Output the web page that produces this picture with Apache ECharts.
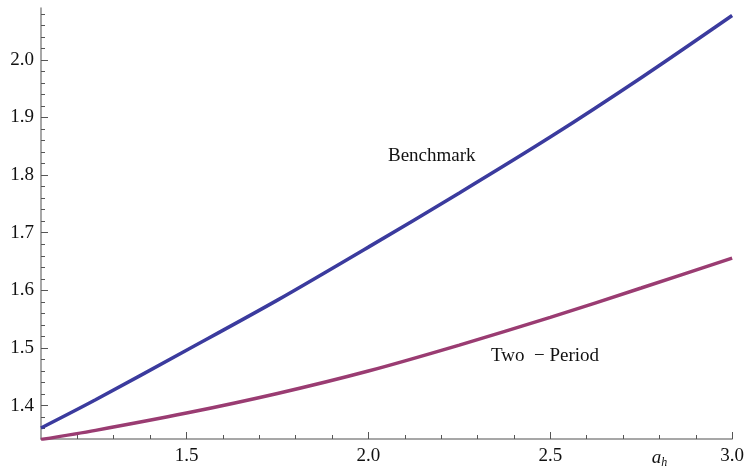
<!DOCTYPE html>
<html>
<head>
<meta charset="utf-8">
<script src="https://cdn.jsdelivr.net/npm/echarts@6/dist/echarts.min.js"></script>
<style>
    html, body { margin: 0; padding: 0; background: #fff; }
    #chart { width: 747px; height: 469px; }
</style>
</head>
<body>
<div id="chart"></div>
<script>
// data
var xs = [1.1, 1.25, 1.5, 1.75, 2.0, 2.25, 2.5, 2.75, 3.0];
var benchmark = [1.361, 1.410, 1.496, 1.583, 1.675, 1.769, 1.866, 1.969, 2.077];
var twoPeriod = [1.341, 1.357, 1.387, 1.421, 1.460, 1.505, 1.553, 1.604, 1.656];
var xMajor = [1.5, 2.0, 2.5, 3.0];
var xMinor = [1.2, 1.3, 1.4, 1.6, 1.7, 1.8, 1.9, 2.1, 2.2, 2.3, 2.4, 2.6, 2.7, 2.8, 2.9];
var yMajor = [1.4, 1.5, 1.6, 1.7, 1.8, 1.9, 2.0];
var yMinor = [1.36, 1.38, 1.42, 1.44, 1.46, 1.48, 1.52, 1.54, 1.56, 1.58, 1.62, 1.64, 1.66, 1.68,
              1.72, 1.74, 1.76, 1.78, 1.82, 1.84, 1.86, 1.88, 1.92, 1.94, 1.96, 1.98, 2.02, 2.04, 2.06, 2.08];

var FONT = '"Liberation Serif", "DejaVu Serif", serif';
var AXIS_COLOR = '#8a8a8a';
var TEXT_COLOR = '#111';

function pairs(ys) {
    var out = [];
    for (var i = 0; i < xs.length; i++) out.push([xs[i], ys[i]]);
    return out;
}

var chart = echarts.init(document.getElementById('chart'));

var xBase = { type: 'value', min: 1.1, max: 3.0, gridIndex: 0, splitLine: { show: false } };
var yBase = { type: 'value', min: 1.342, max: 2.09, gridIndex: 0, splitLine: { show: false } };

var option = {
    animation: false,
    backgroundColor: '#fff',
    grid: { left: 41, right: 14, top: 8, bottom: 26, containLabel: false },
    xAxis: [
        Object.assign({}, xBase, {
            axisLine: { onZero: false, lineStyle: { color: AXIS_COLOR, width: 1.5 } },
            axisTick: { inside: true, length: 7, customValues: xMajor, lineStyle: { color: '#555' } },
            axisLabel: {
                customValues: xMajor.concat([2.8]),
                margin: 8,
                color: TEXT_COLOR,
                fontFamily: FONT,
                fontSize: 19,
                formatter: function (v) {
                    if (Math.abs(v - 2.8) < 1e-6) return '{i|a}{s|h}';
                    return v.toFixed(1);
                },
                rich: {
                    i: { fontFamily: FONT, fontStyle: 'italic', fontSize: 19, color: TEXT_COLOR },
                    s: { fontFamily: FONT, fontStyle: 'italic', fontSize: 12, color: TEXT_COLOR, padding: [10, 0, 0, 0] }
                }
            }
        }),
        Object.assign({}, xBase, {
            axisLine: { show: false },
            axisTick: { inside: true, length: 4, customValues: xMinor, lineStyle: { color: '#555' } },
            axisLabel: { show: false },
            position: 'bottom'
        })
    ],
    yAxis: [
        Object.assign({}, yBase, {
            axisLine: { onZero: false, lineStyle: { color: AXIS_COLOR, width: 1.5 } },
            axisTick: { inside: true, length: 7, customValues: yMajor, lineStyle: { color: '#555' } },
            axisLabel: {
                customValues: yMajor,
                margin: 7,
                color: TEXT_COLOR,
                fontFamily: FONT,
                fontSize: 19,
                formatter: function (v) { return v.toFixed(1); }
            }
        }),
        Object.assign({}, yBase, {
            position: 'left',
            axisLine: { show: false },
            axisTick: { inside: true, length: 4, customValues: yMinor, lineStyle: { color: '#555' } },
            axisLabel: { show: false }
        })
    ],
    series: [
        {
            name: 'Benchmark',
            type: 'line',
            smooth: 0.3,
            symbol: 'none',
            xAxisIndex: 0,
            yAxisIndex: 0,
            lineStyle: { color: '#3b3b9e', width: 3.5 },
            data: pairs(benchmark)
        },
        {
            name: 'Two - Period',
            type: 'line',
            smooth: 0.3,
            symbol: 'none',
            xAxisIndex: 0,
            yAxisIndex: 0,
            lineStyle: { color: '#9a3c72', width: 3.5 },
            data: pairs(twoPeriod)
        }
    ],
    graphic: [
        {
            type: 'text', left: 388, top: 147,
            style: { text: 'Benchmark', font: '19px ' + FONT, fill: TEXT_COLOR }
        },
        {
            type: 'text', left: 491, top: 347,
            style: { text: 'Two  \u2212 Period', font: '19px ' + FONT, fill: TEXT_COLOR }
        }
    ]
};

chart.setOption(option, true);
</script>
</body>
</html>
